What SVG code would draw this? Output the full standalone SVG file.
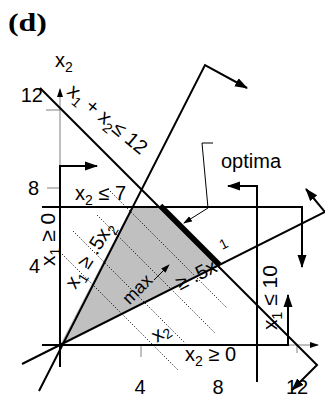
<svg xmlns="http://www.w3.org/2000/svg" width="325" height="398" viewBox="0 0 325 398">
<defs>
<style>
.ax{stroke:#808080;stroke-width:1;fill:none}
.c{stroke:#000;stroke-width:2;fill:none}
.dot{stroke:#000;stroke-width:0.9;stroke-dasharray:1.2 1.8;fill:none}
.thin{stroke:#000;stroke-width:1;fill:none}
text{font-family:"Liberation Sans",Arial,sans-serif;font-size:20px;fill:#000}
.s{font-size:14px}
</style>
<marker id="ab" markerUnits="userSpaceOnUse" markerWidth="14" markerHeight="10" refX="12" refY="5" orient="auto"><path d="M0,0.5 L13,5 L0,9.5 z" fill="#000"/></marker>
<marker id="am" markerUnits="userSpaceOnUse" markerWidth="9" markerHeight="7" refX="8" refY="3.5" orient="auto"><path d="M0,0.5 L9,3.5 L0,6.5 z" fill="#000"/></marker>
</defs>
<rect width="325" height="398" fill="#fff"/>
<g id="feasible-region">
<polygon points="60,345 131.5,207 159,207 218,266" fill="#c0c0c0"/>
</g>
<g id="objective-contours">
<line class="dot" x1="108" y1="189" x2="227" y2="308"/>
<line class="dot" x1="97" y1="215" x2="215" y2="333"/>
<line class="dot" x1="73" y1="231" x2="185" y2="343"/>
<line class="dot" x1="60" y1="252" x2="178" y2="370"/>
</g>
<g id="axes">
<line class="ax" x1="60" y1="166" x2="60" y2="89" marker-end="url(#am)"/>
<line class="ax" x1="288" y1="345" x2="318" y2="345" marker-end="url(#am)"/>
<line class="ax" x1="46" y1="110" x2="60" y2="110"/>
<line class="ax" x1="47" y1="188" x2="60" y2="188"/>
<line class="ax" x1="141" y1="345" x2="141" y2="357"/>
<line class="ax" x1="297" y1="345" x2="297" y2="353"/>
<text x="55" y="67">x<tspan class="s" dy="5">2</tspan></text>
<text x="43" y="102" text-anchor="end">12</text>
<text x="39" y="195" text-anchor="end">8</text>
<text x="40" y="273" text-anchor="end">4</text>
<text x="140" y="394" text-anchor="middle">4</text>
<text x="218" y="394" text-anchor="middle">8</text>
<text x="297" y="394" text-anchor="middle">12</text>
</g>
<g id="connectors">
<polyline id="c-x1-ge-0" class="c" points="60,367 60,166 97,166" marker-end="url(#ab)"/>
<polyline id="c-x2-ge-0" class="c" points="42,345 288,345 288,295" marker-end="url(#ab)"/>
<polyline id="c-x2-le-7" class="c" points="42,207 302,207 302,267" marker-end="url(#ab)"/>
<polyline id="c-x1-le-10" class="c" points="257,382 257,186 228,186" marker-end="url(#ab)"/>
<polyline id="c-sum-le-12" class="c" points="40,88 317,365 292,390" marker-end="url(#ab)"/>
<polyline id="c-x1-ge-half-x2" class="c" points="39,391 205,65 247,88" marker-end="url(#ab)"/>
<polyline id="c-x2-ge-half-x1" class="c" points="22,364 325,212 306,189" marker-end="url(#ab)"/>
<line id="optimal-edge" x1="160.5" y1="205.5" x2="219.5" y2="264.5" stroke="#000" stroke-width="5"/>
<polyline id="optima-leader" class="thin" points="213,143 202,143 208,208 184,223" marker-end="url(#am)"/>
<line id="max-arrow" class="thin" x1="154" y1="280" x2="169" y2="265" marker-end="url(#am)"/>
</g>
<g id="labels">
<text x="8" y="31" style="font-family:'Liberation Serif',serif;font-size:26px;font-weight:bold" textLength="39" lengthAdjust="spacingAndGlyphs">(d)</text>
<text x="75" y="200">x<tspan class="s" dy="5">2</tspan><tspan dy="-5"> ≤ 7</tspan></text>
<text transform="translate(66,93) rotate(40)">x<tspan class="s" dy="5">1</tspan><tspan dy="-5"> + x</tspan><tspan class="s" dy="5">2</tspan><tspan dy="-5">≤ 12</tspan></text>
<text transform="translate(75.6,289.9) rotate(-58)">x<tspan class="s" dy="5">1</tspan><tspan dy="-5"> ≥ .5x</tspan><tspan class="s" dy="5">2</tspan></text>
<text transform="translate(55,266) rotate(-90)" style="font-size:21px">x<tspan class="s" dy="5">1</tspan><tspan dy="-5"> ≥ 0</tspan></text>
<text transform="translate(277,330) rotate(-90)" style="font-size:21px">x<tspan class="s" dy="5">1</tspan><tspan dy="-5"> ≤ 10</tspan></text>
<text x="185" y="361">x<tspan class="s" dy="5">2</tspan><tspan dy="-5"> ≥ 0</tspan></text>
<text x="221" y="168">optima</text>
<text transform="translate(141.5,293.5) rotate(-45)" text-anchor="middle" style="font-size:18px">max</text>
<text transform="translate(157,343) rotate(-35)">x<tspan class="s" dy="3">2</tspan></text>
<g transform="translate(180,290.5) rotate(-27)">
<text x="0" y="0">≥ .5x</text>
<text x="56" y="-17" class="s">1</text>
</g>
</g>
</svg>
